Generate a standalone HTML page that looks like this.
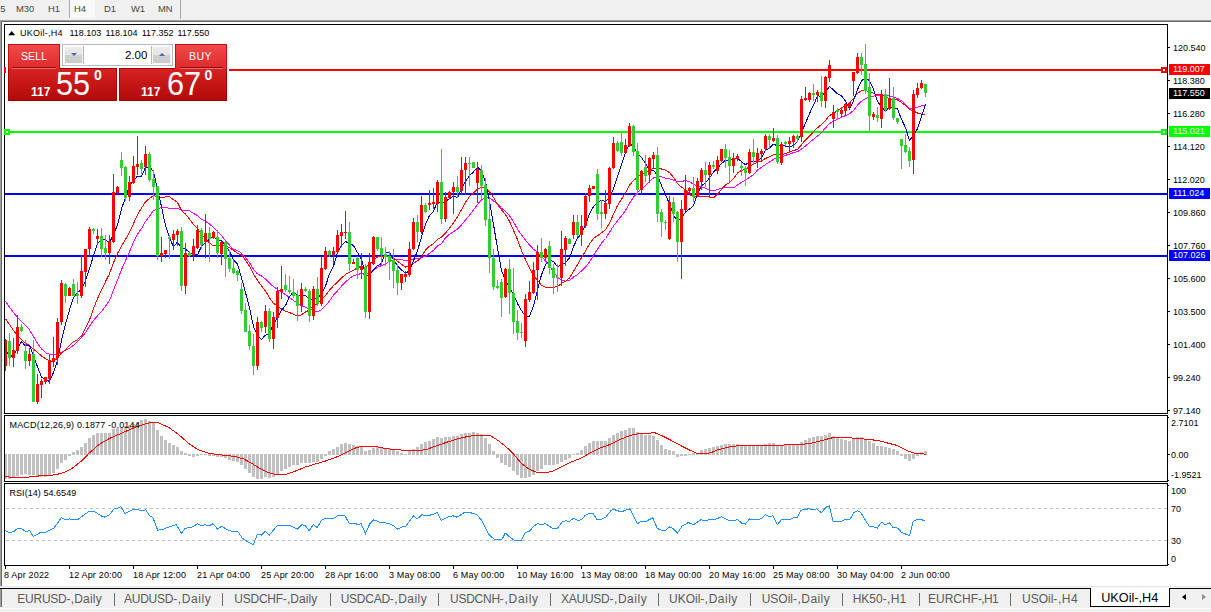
<!DOCTYPE html>
<html><head><meta charset="utf-8"><title>UKOil-,H4</title>
<style>
*{box-sizing:border-box;margin:0;padding:0}
html,body{width:1211px;height:612px;overflow:hidden;background:#fff;font-family:"Liberation Sans",sans-serif}
#root{position:relative;width:1211px;height:612px;overflow:hidden;background:#fff}
#tb{position:absolute;left:0;top:0;width:1211px;height:20px;background:#f0f0f0;opacity:0.999}
#tb .b{position:absolute;top:3px;font-size:9.7px;line-height:12px;color:#444;white-space:nowrap;transform-origin:0 0;transform:scaleX(0.97)}
#tb .h4{position:absolute;left:70px;top:0;width:25px;height:18px;background:#f9f9f9}
#tb .vs{position:absolute;top:0;width:1px;height:19px;background:#a8a8a8}
#wb1{position:absolute;left:0;top:20px;width:1211px;height:1px;background:#a0a0a0}
#wb2{position:absolute;left:1px;top:21px;width:1210px;height:1px;background:#696969}
#wl1{position:absolute;left:0;top:20px;width:1px;height:566px;background:#a0a0a0}
#wl2{position:absolute;left:1px;top:21px;width:1px;height:565px;background:#696969}
svg{position:absolute;left:0;top:0}
.ax{position:absolute;font-size:9px;line-height:12px;color:#000;white-space:nowrap}
.tag{position:absolute;left:1169px;width:41px;height:11px;font-size:9px;line-height:11px;padding-left:4px;white-space:nowrap}
.ttl{position:absolute;font-size:9px;line-height:12px;color:#000;white-space:nowrap}
#tabs{position:absolute;left:0;top:586px;width:1211px;height:26px;background:#f0f0f0}
#tabs .ln0{position:absolute;left:0;top:0;width:1211px;height:2px;background:linear-gradient(#e6e6e6 50%,#f8f8f8 50%)}
#tabs .ln{position:absolute;left:0;top:2px;width:1211px;height:1px;background:#000}
#tabs .lb{position:absolute;left:0;top:3px;width:2px;height:18px;background:linear-gradient(90deg,#a0a0a0 50%,#696969 50%)}
.tab{position:absolute;top:6px;font-size:12px;line-height:15px;color:#5a5a5a;white-space:nowrap}
.sep{position:absolute;top:7px;width:1px;height:13px;background:#6e6e6e}
#act{position:absolute;left:1090px;top:2px;width:80px;height:19px;background:#fff;border:1px solid #000;border-top:0;border-left:1px solid #000}
#act span{position:absolute;left:10.2px;top:3px;font-size:12.7px;line-height:15px;color:#000;white-space:nowrap}
#bot{position:absolute;left:0;top:22px;width:1211px;height:1px;background:#fafafa}
.arr{position:absolute;top:7.5px;width:0;height:0;border-top:3.5px solid transparent;border-bottom:3.5px solid transparent}
/* trade panel */
#tp{position:absolute;left:8px;top:44px;width:219px;height:57px;background:#fff;box-shadow:-2px 0 0 #fff,2px 0 0 #fff}
.rb{position:absolute;color:#fff}
#sell{left:0;top:0;width:52px;height:25px;background:linear-gradient(#f24a4a,#dc2a2a);border:1px solid #c01010;border-bottom:0}
#buy{left:167px;top:0;width:52px;height:25px;background:linear-gradient(#f24a4a,#dc2a2a);border:1px solid #c01010;border-bottom:0}
#sp{left:0;top:24px;width:109px;height:33px;background:linear-gradient(#d62222,#b20a0a);border:1px solid #a80000}
#bp{left:111px;top:24px;width:108px;height:33px;background:linear-gradient(#d62222,#b20a0a);border:1px solid #a80000}
.rb .t{position:absolute;font-size:11.5px;line-height:13px;white-space:nowrap;transform-origin:0 50%;transform:scaleX(0.915)}
.uln{position:absolute;height:1px}
#vol{position:absolute;left:54px;top:0;width:111px;height:22px;background:#fff;border:1px solid #b4b8c4}
.vb{position:absolute;top:1px;width:19px;height:18px;background:linear-gradient(#ececec 0,#e4e4e4 50%,#d0d0d0 51%,#cbcbcb 100%);border:1px solid #f4f4f4}
.small{position:absolute;font-weight:bold;font-size:12px;line-height:12px}
.big{position:absolute;font-size:33px;line-height:33px;transform-origin:0 0;transform:scaleX(0.93)}
.sup{position:absolute;font-weight:bold;font-size:14px;line-height:14px}
</style></head><body><div id="root">
<div id="tb">
 <div class="h4"></div>
 <div class="vs" style="left:69px;height:18px"></div>
 <div class="vs" style="left:180px"></div>
 <div class="b" style="left:-5px">15</div>
 <div class="b" style="left:16.4px">M30</div>
 <div class="b" style="left:47.6px">H1</div>
 <div class="b" style="left:74.3px">H4</div>
 <div class="b" style="left:103.5px">D1</div>
 <div class="b" style="left:131.2px">W1</div>
 <div class="b" style="left:157.5px">MN</div>
</div>
<div id="wb1"></div><div id="wb2"></div><div id="wl1"></div><div id="wl2"></div>
<svg width="1211" height="612" viewBox="0 0 1211 612" shape-rendering="crispEdges">
<rect x="5" y="69" width="1162" height="2" fill="#ff0000"/>
<rect x="5" y="131" width="1162" height="2" fill="#00ff00"/>
<rect x="5" y="193" width="1162" height="2" fill="#0000ff"/>
<rect x="5" y="255" width="1162" height="2" fill="#0000ff"/>
<polyline points="5.5,301.2 9.5,307.2 13.5,312.7 17.5,317.3 21.5,321.4 25.5,325.6 29.5,329.8 33.5,336.8 37.5,343.4 41.5,348.8 45.5,352.7 49.5,354.3 53.5,355.1 57.5,354.4 61.5,352.1 65.5,350.1 69.5,348.2 73.5,345.2 77.5,341.8 81.5,337.2 85.5,332.7 89.5,326.2 93.5,320.3 97.5,315.8 101.5,311.6 105.5,306.2 109.5,300.6 113.5,290.1 117.5,280.2 121.5,269.6 125.5,260.6 129.5,251.8 133.5,242.2 137.5,234.2 141.5,228.6 145.5,221.4 149.5,216.1 153.5,210.6 157.5,208.6 161.5,207.7 165.5,207.8 169.5,208.2 173.5,208.4 177.5,208.2 181.5,210.0 185.5,210.0 189.5,210.8 193.5,213.4 197.5,215.6 201.5,219.4 205.5,221.2 209.5,224.1 213.5,227.3 217.5,231.8 221.5,235.4 225.5,240.7 229.5,245.2 233.5,249.4 237.5,250.4 241.5,253.3 245.5,257.4 249.5,262.8 253.5,269.4 257.5,273.9 261.5,276.0 265.5,278.9 269.5,283.1 273.5,286.6 277.5,289.6 281.5,291.9 285.5,294.7 289.5,297.4 293.5,300.6 297.5,303.2 301.5,305.6 305.5,307.1 309.5,309.5 313.5,310.3 317.5,311.8 321.5,309.6 325.5,305.6 329.5,301.0 333.5,295.2 337.5,290.9 341.5,286.1 345.5,282.1 349.5,278.4 353.5,275.6 357.5,274.6 361.5,273.4 365.5,274.6 369.5,273.1 373.5,270.1 377.5,267.2 381.5,265.6 385.5,263.9 389.5,261.1 393.5,260.2 397.5,259.2 401.5,259.5 405.5,260.6 409.5,260.4 413.5,258.9 417.5,258.8 421.5,257.4 425.5,256.4 429.5,253.3 433.5,250.3 437.5,245.9 441.5,243.6 445.5,237.8 449.5,234.3 453.5,231.8 457.5,229.0 461.5,224.8 465.5,220.1 469.5,215.2 473.5,210.0 477.5,204.3 481.5,199.9 485.5,197.2 489.5,197.7 493.5,200.9 497.5,203.7 501.5,208.3 505.5,211.2 509.5,215.7 513.5,221.7 517.5,229.2 521.5,234.9 525.5,240.1 529.5,245.1 533.5,249.2 537.5,252.2 541.5,256.6 545.5,260.9 549.5,266.1 553.5,271.6 557.5,277.1 561.5,280.2 565.5,281.1 569.5,280.4 573.5,277.1 577.5,274.5 581.5,270.9 585.5,267.2 589.5,262.0 593.5,255.2 597.5,249.2 601.5,243.3 605.5,238.5 609.5,232.3 613.5,225.9 617.5,220.9 621.5,215.7 625.5,210.4 629.5,203.3 633.5,197.1 637.5,192.7 641.5,188.8 645.5,185.7 649.5,181.3 653.5,178.0 657.5,176.9 661.5,176.8 665.5,178.1 669.5,178.8 673.5,180.2 677.5,181.6 681.5,181.3 685.5,180.7 689.5,181.7 693.5,184.4 697.5,185.9 701.5,186.8 705.5,188.2 709.5,190.2 713.5,190.9 717.5,189.4 721.5,188.3 725.5,187.4 729.5,187.8 733.5,188.0 737.5,185.1 741.5,182.4 745.5,179.9 749.5,177.4 753.5,174.6 757.5,170.1 761.5,167.2 765.5,164.5 769.5,162.1 773.5,159.2 777.5,158.2 781.5,156.9 785.5,155.3 789.5,154.2 793.5,152.6 797.5,151.6 801.5,149.1 805.5,146.1 809.5,142.4 813.5,139.2 817.5,136.1 821.5,132.7 825.5,127.9 829.5,123.5 833.5,121.3 837.5,119.2 841.5,117.2 845.5,115.6 849.5,113.8 853.5,110.5 857.5,105.2 861.5,101.2 865.5,98.6 869.5,97.3 873.5,96.2 877.5,95.2 881.5,95.0 885.5,95.5 889.5,95.8 893.5,97.0 897.5,98.5 901.5,100.7 905.5,104.5 909.5,109.2 913.5,108.3 917.5,107.2 921.5,105.8 925.5,105.2" fill="none" stroke="#ff00ff" stroke-width="1"/>
<polyline points="5.5,318.9 9.5,324.6 13.5,330.5 17.5,335.6 21.5,339.4 25.5,343.6 29.5,345.3 33.5,349.2 37.5,352.4 41.5,356.0 45.5,358.7 49.5,361.0 53.5,361.2 57.5,358.3 61.5,353.0 65.5,350.1 69.5,345.4 73.5,341.8 77.5,339.8 81.5,335.8 85.5,328.3 89.5,320.0 93.5,308.6 97.5,298.7 101.5,289.9 105.5,281.6 109.5,273.7 113.5,262.6 117.5,253.6 121.5,246.0 125.5,239.4 129.5,232.4 133.5,223.7 137.5,214.9 141.5,208.1 145.5,201.8 149.5,198.5 153.5,195.6 157.5,196.9 161.5,197.2 165.5,197.0 169.5,196.8 173.5,199.6 177.5,202.6 181.5,210.4 185.5,214.1 189.5,219.0 193.5,224.4 197.5,228.8 201.5,233.8 205.5,239.1 209.5,243.0 213.5,246.0 217.5,245.8 221.5,245.1 225.5,245.7 229.5,247.7 233.5,250.3 237.5,253.2 241.5,254.9 245.5,260.2 249.5,266.2 253.5,274.2 257.5,280.3 261.5,285.8 265.5,291.0 269.5,297.7 273.5,303.4 277.5,305.9 281.5,309.0 285.5,311.1 289.5,312.6 293.5,314.2 297.5,316.2 301.5,314.8 305.5,312.0 309.5,310.0 313.5,304.9 317.5,303.7 321.5,299.7 325.5,295.7 329.5,290.1 333.5,285.7 337.5,282.0 341.5,278.2 345.5,274.3 349.5,272.4 353.5,270.2 357.5,267.8 361.5,266.2 365.5,267.6 369.5,264.0 373.5,260.6 377.5,256.9 381.5,256.0 385.5,256.4 389.5,256.9 393.5,258.2 397.5,261.4 401.5,264.2 405.5,267.0 409.5,266.0 413.5,263.4 417.5,260.8 421.5,256.8 425.5,250.1 429.5,246.2 433.5,243.8 437.5,239.4 441.5,237.0 445.5,233.0 449.5,228.3 453.5,222.7 457.5,216.6 461.5,209.7 465.5,202.3 469.5,196.6 473.5,193.0 477.5,188.8 481.5,187.6 485.5,188.1 489.5,191.8 493.5,197.4 497.5,204.5 501.5,209.8 505.5,214.6 509.5,221.3 513.5,230.3 517.5,239.7 521.5,250.6 525.5,259.6 529.5,268.2 533.5,275.0 537.5,280.5 541.5,285.3 545.5,287.2 549.5,287.9 553.5,287.3 557.5,286.6 561.5,283.4 565.5,281.3 569.5,278.0 573.5,271.4 577.5,264.8 581.5,257.7 585.5,250.8 589.5,243.9 593.5,238.3 597.5,235.8 601.5,232.8 605.5,229.8 609.5,223.1 613.5,214.1 617.5,205.6 621.5,199.2 625.5,193.0 629.5,185.2 633.5,180.5 637.5,177.5 641.5,173.8 645.5,172.5 649.5,170.5 653.5,168.4 657.5,168.4 661.5,169.0 665.5,170.3 669.5,172.6 673.5,177.3 677.5,183.4 681.5,187.1 685.5,190.1 689.5,194.2 693.5,197.2 697.5,196.6 701.5,196.6 705.5,196.5 709.5,197.0 713.5,197.8 717.5,194.2 721.5,189.3 725.5,185.0 729.5,182.6 733.5,178.8 737.5,173.1 741.5,170.4 745.5,169.2 749.5,166.8 753.5,164.2 757.5,162.3 761.5,161.0 765.5,158.4 769.5,156.8 773.5,154.8 777.5,155.0 781.5,154.6 785.5,153.7 789.5,152.0 793.5,150.6 797.5,149.4 801.5,144.8 805.5,139.8 809.5,135.9 813.5,131.8 817.5,127.7 821.5,124.4 825.5,120.4 829.5,115.4 833.5,113.7 837.5,110.4 841.5,108.1 845.5,105.4 849.5,102.9 853.5,98.6 857.5,93.2 861.5,90.9 865.5,90.4 869.5,92.0 873.5,93.2 877.5,95.0 881.5,94.5 885.5,96.7 889.5,98.9 893.5,99.3 897.5,100.0 901.5,102.4 905.5,105.6 909.5,109.4 913.5,110.9 917.5,113.0 921.5,114.2 925.5,114.3" fill="none" stroke="#ff0000" stroke-width="1"/>
<polyline points="5.5,350.1 9.5,356.5 13.5,355.5 17.5,347.9 21.5,341.7 25.5,345.9 29.5,345.1 33.5,355.5 37.5,366.9 41.5,376.9 45.5,380.1 49.5,381.3 53.5,372.5 57.5,360.1 61.5,340.5 65.5,324.3 69.5,309.9 73.5,297.5 77.5,292.3 81.5,289.9 85.5,280.5 89.5,268.7 93.5,255.7 97.5,243.7 101.5,239.3 105.5,240.1 109.5,242.5 113.5,234.7 117.5,224.9 121.5,208.7 125.5,197.7 129.5,185.9 133.5,180.7 137.5,176.1 141.5,176.3 145.5,167.5 149.5,167.1 153.5,171.3 157.5,189.7 161.5,206.5 165.5,225.7 169.5,237.5 173.5,246.9 177.5,241.9 181.5,248.5 185.5,249.1 189.5,252.5 193.5,254.9 197.5,254.7 201.5,246.5 205.5,242.5 209.5,239.1 213.5,236.3 217.5,240.9 221.5,240.3 225.5,245.5 229.5,251.5 233.5,259.7 237.5,264.1 241.5,277.9 245.5,292.5 249.5,307.9 253.5,326.5 257.5,335.9 261.5,339.3 265.5,335.1 269.5,333.7 273.5,323.9 277.5,317.7 281.5,309.9 285.5,305.7 289.5,296.3 293.5,292.1 297.5,295.1 301.5,295.1 305.5,295.3 309.5,300.1 313.5,298.7 317.5,298.3 321.5,294.1 325.5,286.1 329.5,273.9 333.5,266.3 337.5,252.5 341.5,245.3 345.5,241.5 349.5,243.3 353.5,245.5 357.5,252.5 361.5,259.3 365.5,275.3 369.5,274.9 373.5,269.9 377.5,265.7 381.5,263.5 385.5,252.5 389.5,252.5 393.5,259.3 397.5,266.1 401.5,269.9 405.5,273.3 409.5,270.7 413.5,260.9 417.5,250.7 421.5,236.9 425.5,224.5 429.5,215.3 433.5,211.3 437.5,201.3 441.5,204.1 445.5,201.1 449.5,198.9 453.5,195.9 457.5,197.9 461.5,188.1 465.5,181.3 469.5,175.7 473.5,171.9 477.5,167.3 481.5,170.5 485.5,181.9 489.5,200.7 493.5,224.5 497.5,248.3 501.5,270.7 505.5,280.5 509.5,287.5 513.5,294.5 517.5,303.5 521.5,310.5 525.5,316.5 529.5,316.3 533.5,305.9 537.5,289.7 541.5,274.7 545.5,264.7 549.5,259.9 553.5,261.5 557.5,266.7 561.5,264.9 565.5,262.7 569.5,257.9 573.5,246.7 577.5,238.1 581.5,233.5 585.5,225.1 589.5,213.9 593.5,206.7 597.5,202.5 601.5,200.1 605.5,201.5 609.5,197.5 613.5,188.9 617.5,176.3 621.5,164.1 625.5,152.5 629.5,144.1 633.5,145.9 637.5,153.7 641.5,157.3 645.5,163.5 649.5,169.9 653.5,170.5 657.5,175.3 661.5,185.5 665.5,194.9 669.5,203.7 673.5,215.5 677.5,221.1 681.5,218.5 685.5,211.9 689.5,209.1 693.5,205.7 697.5,193.5 701.5,185.7 705.5,182.7 709.5,178.1 713.5,172.1 717.5,167.9 721.5,163.7 725.5,160.3 729.5,160.5 733.5,158.7 737.5,157.9 741.5,161.7 745.5,164.7 749.5,161.9 753.5,161.7 757.5,161.1 761.5,157.7 765.5,150.3 769.5,147.9 773.5,144.1 777.5,145.9 781.5,144.5 785.5,146.1 789.5,146.3 793.5,145.9 797.5,141.3 801.5,132.3 805.5,123.1 809.5,113.5 813.5,105.3 817.5,95.9 821.5,96.3 825.5,92.1 829.5,86.5 833.5,89.9 837.5,93.9 841.5,95.7 845.5,101.1 849.5,108.7 853.5,100.7 857.5,89.7 861.5,80.7 865.5,78.1 869.5,80.7 873.5,89.1 877.5,101.3 881.5,107.1 885.5,110.9 889.5,107.3 893.5,108.1 897.5,108.9 901.5,119.3 905.5,127.7 909.5,140.3 913.5,135.5 917.5,128.7 921.5,116.1 925.5,104.3" fill="none" stroke="#0000cd" stroke-width="1"/>
<rect x="5" y="339" width="1" height="32" fill="#ff0000"/>
<rect x="4" y="340" width="3" height="26" fill="#ff0000"/>
<rect x="9" y="333" width="1" height="33" fill="#32cd32"/>
<rect x="8" y="341" width="3" height="17" fill="#32cd32"/>
<rect x="13" y="338" width="1" height="29" fill="#ff0000"/>
<rect x="12" y="350" width="3" height="8" fill="#ff0000"/>
<rect x="17" y="315" width="1" height="39" fill="#ff0000"/>
<rect x="16" y="327" width="3" height="24" fill="#ff0000"/>
<rect x="21" y="324" width="1" height="8" fill="#32cd32"/>
<rect x="20" y="327" width="3" height="4" fill="#32cd32"/>
<rect x="25" y="340" width="1" height="29" fill="#32cd32"/>
<rect x="24" y="351" width="3" height="10" fill="#32cd32"/>
<rect x="29" y="348" width="1" height="18" fill="#ff0000"/>
<rect x="28" y="354" width="3" height="7" fill="#ff0000"/>
<rect x="33" y="340" width="1" height="62" fill="#32cd32"/>
<rect x="32" y="354" width="3" height="48" fill="#32cd32"/>
<rect x="37" y="374" width="1" height="30" fill="#ff0000"/>
<rect x="36" y="384" width="3" height="18" fill="#ff0000"/>
<rect x="41" y="379" width="1" height="19" fill="#ff0000"/>
<rect x="40" y="381" width="3" height="4" fill="#ff0000"/>
<rect x="45" y="377" width="1" height="7" fill="#ff0000"/>
<rect x="44" y="377" width="3" height="5" fill="#ff0000"/>
<rect x="49" y="354" width="1" height="30" fill="#ff0000"/>
<rect x="48" y="360" width="3" height="19" fill="#ff0000"/>
<rect x="53" y="337" width="1" height="30" fill="#ff0000"/>
<rect x="52" y="358" width="3" height="4" fill="#ff0000"/>
<rect x="57" y="318" width="1" height="47" fill="#ff0000"/>
<rect x="56" y="322" width="3" height="36" fill="#ff0000"/>
<rect x="61" y="280" width="1" height="45" fill="#ff0000"/>
<rect x="60" y="283" width="3" height="39" fill="#ff0000"/>
<rect x="65" y="283" width="1" height="20" fill="#32cd32"/>
<rect x="64" y="284" width="3" height="12" fill="#32cd32"/>
<rect x="69" y="287" width="1" height="9" fill="#ff0000"/>
<rect x="68" y="288" width="3" height="8" fill="#ff0000"/>
<rect x="73" y="279" width="1" height="17" fill="#32cd32"/>
<rect x="72" y="284" width="3" height="12" fill="#32cd32"/>
<rect x="77" y="282" width="1" height="22" fill="#32cd32"/>
<rect x="76" y="294" width="3" height="2" fill="#32cd32"/>
<rect x="81" y="255" width="1" height="43" fill="#ff0000"/>
<rect x="80" y="271" width="3" height="25" fill="#ff0000"/>
<rect x="85" y="249" width="1" height="38" fill="#ff0000"/>
<rect x="84" y="249" width="3" height="23" fill="#ff0000"/>
<rect x="89" y="227" width="1" height="30" fill="#ff0000"/>
<rect x="88" y="229" width="3" height="20" fill="#ff0000"/>
<rect x="93" y="228" width="1" height="6" fill="#32cd32"/>
<rect x="92" y="229" width="3" height="2" fill="#32cd32"/>
<rect x="97" y="229" width="1" height="16" fill="#ff0000"/>
<rect x="96" y="236" width="3" height="3" fill="#ff0000"/>
<rect x="101" y="228" width="1" height="29" fill="#32cd32"/>
<rect x="100" y="236" width="3" height="13" fill="#32cd32"/>
<rect x="105" y="235" width="1" height="25" fill="#32cd32"/>
<rect x="104" y="248" width="3" height="5" fill="#32cd32"/>
<rect x="109" y="235" width="1" height="29" fill="#ff0000"/>
<rect x="108" y="241" width="3" height="12" fill="#ff0000"/>
<rect x="113" y="174" width="1" height="69" fill="#ff0000"/>
<rect x="112" y="192" width="3" height="50" fill="#ff0000"/>
<rect x="117" y="186" width="1" height="8" fill="#ff0000"/>
<rect x="116" y="187" width="3" height="6" fill="#ff0000"/>
<rect x="121" y="152" width="1" height="24" fill="#32cd32"/>
<rect x="120" y="160" width="3" height="8" fill="#32cd32"/>
<rect x="125" y="166" width="1" height="35" fill="#32cd32"/>
<rect x="124" y="167" width="3" height="31" fill="#32cd32"/>
<rect x="129" y="176" width="1" height="25" fill="#ff0000"/>
<rect x="128" y="182" width="3" height="15" fill="#ff0000"/>
<rect x="133" y="156" width="1" height="28" fill="#ff0000"/>
<rect x="132" y="166" width="3" height="17" fill="#ff0000"/>
<rect x="137" y="136" width="1" height="39" fill="#ff0000"/>
<rect x="136" y="164" width="3" height="3" fill="#ff0000"/>
<rect x="141" y="160" width="1" height="14" fill="#32cd32"/>
<rect x="140" y="163" width="3" height="6" fill="#32cd32"/>
<rect x="145" y="146" width="1" height="29" fill="#ff0000"/>
<rect x="144" y="154" width="3" height="13" fill="#ff0000"/>
<rect x="149" y="152" width="1" height="30" fill="#32cd32"/>
<rect x="148" y="154" width="3" height="26" fill="#32cd32"/>
<rect x="153" y="170" width="1" height="30" fill="#32cd32"/>
<rect x="152" y="179" width="3" height="8" fill="#32cd32"/>
<rect x="157" y="186" width="1" height="74" fill="#32cd32"/>
<rect x="156" y="186" width="3" height="70" fill="#32cd32"/>
<rect x="161" y="237" width="1" height="25" fill="#ff0000"/>
<rect x="160" y="253" width="3" height="3" fill="#ff0000"/>
<rect x="165" y="250" width="1" height="8" fill="#ff0000"/>
<rect x="164" y="250" width="3" height="4" fill="#ff0000"/>
<rect x="169" y="235" width="1" height="24" fill="#32cd32"/>
<rect x="168" y="237" width="3" height="2" fill="#32cd32"/>
<rect x="173" y="230" width="1" height="20" fill="#ff0000"/>
<rect x="172" y="234" width="3" height="6" fill="#ff0000"/>
<rect x="177" y="229" width="1" height="17" fill="#ff0000"/>
<rect x="176" y="231" width="3" height="4" fill="#ff0000"/>
<rect x="181" y="227" width="1" height="64" fill="#32cd32"/>
<rect x="180" y="231" width="3" height="55" fill="#32cd32"/>
<rect x="185" y="243" width="1" height="51" fill="#ff0000"/>
<rect x="184" y="253" width="3" height="33" fill="#ff0000"/>
<rect x="189" y="251" width="1" height="6" fill="#32cd32"/>
<rect x="188" y="253" width="3" height="3" fill="#32cd32"/>
<rect x="193" y="239" width="1" height="22" fill="#ff0000"/>
<rect x="192" y="246" width="3" height="9" fill="#ff0000"/>
<rect x="197" y="225" width="1" height="24" fill="#ff0000"/>
<rect x="196" y="230" width="3" height="18" fill="#ff0000"/>
<rect x="201" y="228" width="1" height="21" fill="#32cd32"/>
<rect x="200" y="230" width="3" height="15" fill="#32cd32"/>
<rect x="205" y="214" width="1" height="44" fill="#ff0000"/>
<rect x="204" y="233" width="3" height="9" fill="#ff0000"/>
<rect x="209" y="227" width="1" height="35" fill="#32cd32"/>
<rect x="208" y="233" width="3" height="6" fill="#32cd32"/>
<rect x="213" y="231" width="1" height="8" fill="#ff0000"/>
<rect x="212" y="232" width="3" height="6" fill="#ff0000"/>
<rect x="217" y="230" width="1" height="28" fill="#32cd32"/>
<rect x="216" y="237" width="3" height="16" fill="#32cd32"/>
<rect x="221" y="241" width="1" height="24" fill="#ff0000"/>
<rect x="220" y="242" width="3" height="12" fill="#ff0000"/>
<rect x="225" y="241" width="1" height="36" fill="#32cd32"/>
<rect x="224" y="242" width="3" height="17" fill="#32cd32"/>
<rect x="229" y="250" width="1" height="22" fill="#32cd32"/>
<rect x="228" y="258" width="3" height="11" fill="#32cd32"/>
<rect x="233" y="260" width="1" height="14" fill="#32cd32"/>
<rect x="232" y="268" width="3" height="5" fill="#32cd32"/>
<rect x="237" y="270" width="1" height="11" fill="#32cd32"/>
<rect x="236" y="271" width="3" height="4" fill="#32cd32"/>
<rect x="241" y="283" width="1" height="31" fill="#32cd32"/>
<rect x="240" y="289" width="3" height="22" fill="#32cd32"/>
<rect x="245" y="303" width="1" height="29" fill="#32cd32"/>
<rect x="244" y="310" width="3" height="22" fill="#32cd32"/>
<rect x="249" y="325" width="1" height="25" fill="#32cd32"/>
<rect x="248" y="331" width="3" height="15" fill="#32cd32"/>
<rect x="253" y="334" width="1" height="41" fill="#32cd32"/>
<rect x="252" y="346" width="3" height="20" fill="#32cd32"/>
<rect x="257" y="317" width="1" height="53" fill="#ff0000"/>
<rect x="256" y="322" width="3" height="44" fill="#ff0000"/>
<rect x="261" y="321" width="1" height="11" fill="#32cd32"/>
<rect x="260" y="322" width="3" height="6" fill="#32cd32"/>
<rect x="265" y="305" width="1" height="28" fill="#ff0000"/>
<rect x="264" y="311" width="3" height="16" fill="#ff0000"/>
<rect x="269" y="308" width="1" height="34" fill="#32cd32"/>
<rect x="268" y="311" width="3" height="28" fill="#32cd32"/>
<rect x="273" y="312" width="1" height="37" fill="#ff0000"/>
<rect x="272" y="317" width="3" height="22" fill="#ff0000"/>
<rect x="277" y="287" width="1" height="41" fill="#ff0000"/>
<rect x="276" y="291" width="3" height="27" fill="#ff0000"/>
<rect x="281" y="266" width="1" height="33" fill="#ff0000"/>
<rect x="280" y="289" width="3" height="3" fill="#ff0000"/>
<rect x="285" y="274" width="1" height="18" fill="#32cd32"/>
<rect x="284" y="285" width="3" height="5" fill="#32cd32"/>
<rect x="289" y="276" width="1" height="18" fill="#32cd32"/>
<rect x="288" y="290" width="3" height="2" fill="#32cd32"/>
<rect x="293" y="279" width="1" height="19" fill="#32cd32"/>
<rect x="292" y="292" width="3" height="4" fill="#32cd32"/>
<rect x="297" y="290" width="1" height="31" fill="#32cd32"/>
<rect x="296" y="295" width="3" height="11" fill="#32cd32"/>
<rect x="301" y="283" width="1" height="29" fill="#ff0000"/>
<rect x="300" y="289" width="3" height="16" fill="#ff0000"/>
<rect x="305" y="287" width="1" height="5" fill="#32cd32"/>
<rect x="304" y="289" width="3" height="2" fill="#32cd32"/>
<rect x="309" y="289" width="1" height="33" fill="#32cd32"/>
<rect x="308" y="291" width="3" height="25" fill="#32cd32"/>
<rect x="313" y="286" width="1" height="34" fill="#ff0000"/>
<rect x="312" y="289" width="3" height="27" fill="#ff0000"/>
<rect x="317" y="277" width="1" height="29" fill="#32cd32"/>
<rect x="316" y="289" width="3" height="15" fill="#32cd32"/>
<rect x="321" y="257" width="1" height="49" fill="#ff0000"/>
<rect x="320" y="268" width="3" height="36" fill="#ff0000"/>
<rect x="325" y="247" width="1" height="23" fill="#ff0000"/>
<rect x="324" y="251" width="3" height="18" fill="#ff0000"/>
<rect x="329" y="250" width="1" height="7" fill="#32cd32"/>
<rect x="328" y="251" width="3" height="4" fill="#32cd32"/>
<rect x="333" y="247" width="1" height="17" fill="#ff0000"/>
<rect x="332" y="251" width="3" height="4" fill="#ff0000"/>
<rect x="337" y="230" width="1" height="23" fill="#ff0000"/>
<rect x="336" y="235" width="3" height="17" fill="#ff0000"/>
<rect x="341" y="224" width="1" height="23" fill="#ff0000"/>
<rect x="340" y="232" width="3" height="4" fill="#ff0000"/>
<rect x="345" y="211" width="1" height="28" fill="#ff0000"/>
<rect x="344" y="232" width="3" height="1" fill="#ff0000"/>
<rect x="349" y="222" width="1" height="49" fill="#32cd32"/>
<rect x="348" y="232" width="3" height="32" fill="#32cd32"/>
<rect x="353" y="259" width="1" height="5" fill="#ff0000"/>
<rect x="352" y="262" width="3" height="2" fill="#ff0000"/>
<rect x="357" y="256" width="1" height="23" fill="#32cd32"/>
<rect x="356" y="258" width="3" height="12" fill="#32cd32"/>
<rect x="361" y="253" width="1" height="26" fill="#ff0000"/>
<rect x="360" y="266" width="3" height="4" fill="#ff0000"/>
<rect x="365" y="264" width="1" height="54" fill="#32cd32"/>
<rect x="364" y="267" width="3" height="45" fill="#32cd32"/>
<rect x="369" y="253" width="1" height="66" fill="#ff0000"/>
<rect x="368" y="262" width="3" height="50" fill="#ff0000"/>
<rect x="373" y="236" width="1" height="29" fill="#ff0000"/>
<rect x="372" y="237" width="3" height="27" fill="#ff0000"/>
<rect x="377" y="237" width="1" height="14" fill="#32cd32"/>
<rect x="376" y="237" width="3" height="12" fill="#32cd32"/>
<rect x="381" y="237" width="1" height="28" fill="#32cd32"/>
<rect x="380" y="248" width="3" height="7" fill="#32cd32"/>
<rect x="385" y="247" width="1" height="19" fill="#32cd32"/>
<rect x="384" y="254" width="3" height="3" fill="#32cd32"/>
<rect x="389" y="251" width="1" height="29" fill="#32cd32"/>
<rect x="388" y="256" width="3" height="6" fill="#32cd32"/>
<rect x="393" y="249" width="1" height="39" fill="#32cd32"/>
<rect x="392" y="260" width="3" height="11" fill="#32cd32"/>
<rect x="397" y="264" width="1" height="31" fill="#32cd32"/>
<rect x="396" y="270" width="3" height="13" fill="#32cd32"/>
<rect x="401" y="274" width="1" height="16" fill="#ff0000"/>
<rect x="400" y="274" width="3" height="9" fill="#ff0000"/>
<rect x="405" y="271" width="1" height="11" fill="#ff0000"/>
<rect x="404" y="274" width="3" height="3" fill="#ff0000"/>
<rect x="409" y="242" width="1" height="35" fill="#ff0000"/>
<rect x="408" y="249" width="3" height="26" fill="#ff0000"/>
<rect x="413" y="218" width="1" height="32" fill="#ff0000"/>
<rect x="412" y="222" width="3" height="27" fill="#ff0000"/>
<rect x="417" y="215" width="1" height="27" fill="#32cd32"/>
<rect x="416" y="222" width="3" height="10" fill="#32cd32"/>
<rect x="421" y="196" width="1" height="38" fill="#ff0000"/>
<rect x="420" y="205" width="3" height="27" fill="#ff0000"/>
<rect x="425" y="203" width="1" height="10" fill="#32cd32"/>
<rect x="424" y="205" width="3" height="7" fill="#32cd32"/>
<rect x="429" y="190" width="1" height="20" fill="#ff0000"/>
<rect x="428" y="203" width="3" height="2" fill="#ff0000"/>
<rect x="433" y="188" width="1" height="21" fill="#ff0000"/>
<rect x="432" y="202" width="3" height="2" fill="#ff0000"/>
<rect x="437" y="180" width="1" height="32" fill="#ff0000"/>
<rect x="436" y="182" width="3" height="22" fill="#ff0000"/>
<rect x="441" y="149" width="1" height="75" fill="#32cd32"/>
<rect x="440" y="182" width="3" height="37" fill="#32cd32"/>
<rect x="445" y="192" width="1" height="30" fill="#ff0000"/>
<rect x="444" y="197" width="3" height="22" fill="#ff0000"/>
<rect x="449" y="191" width="1" height="8" fill="#ff0000"/>
<rect x="448" y="192" width="3" height="6" fill="#ff0000"/>
<rect x="453" y="182" width="1" height="32" fill="#ff0000"/>
<rect x="452" y="187" width="3" height="5" fill="#ff0000"/>
<rect x="457" y="176" width="1" height="22" fill="#32cd32"/>
<rect x="456" y="187" width="3" height="5" fill="#32cd32"/>
<rect x="461" y="157" width="1" height="38" fill="#ff0000"/>
<rect x="460" y="170" width="3" height="21" fill="#ff0000"/>
<rect x="465" y="157" width="1" height="38" fill="#ff0000"/>
<rect x="464" y="163" width="3" height="7" fill="#ff0000"/>
<rect x="469" y="157" width="1" height="29" fill="#32cd32"/>
<rect x="468" y="163" width="3" height="1" fill="#32cd32"/>
<rect x="473" y="162" width="1" height="6" fill="#32cd32"/>
<rect x="472" y="162" width="3" height="6" fill="#32cd32"/>
<rect x="477" y="162" width="1" height="41" fill="#ff0000"/>
<rect x="476" y="169" width="3" height="14" fill="#ff0000"/>
<rect x="481" y="165" width="1" height="34" fill="#32cd32"/>
<rect x="480" y="170" width="3" height="16" fill="#32cd32"/>
<rect x="485" y="178" width="1" height="48" fill="#32cd32"/>
<rect x="484" y="185" width="3" height="35" fill="#32cd32"/>
<rect x="489" y="198" width="1" height="75" fill="#32cd32"/>
<rect x="488" y="219" width="3" height="39" fill="#32cd32"/>
<rect x="493" y="249" width="1" height="41" fill="#32cd32"/>
<rect x="492" y="258" width="3" height="29" fill="#32cd32"/>
<rect x="497" y="280" width="1" height="9" fill="#32cd32"/>
<rect x="496" y="286" width="3" height="2" fill="#32cd32"/>
<rect x="501" y="279" width="1" height="38" fill="#32cd32"/>
<rect x="500" y="282" width="3" height="16" fill="#32cd32"/>
<rect x="505" y="268" width="1" height="30" fill="#ff0000"/>
<rect x="504" y="269" width="3" height="28" fill="#ff0000"/>
<rect x="509" y="259" width="1" height="55" fill="#32cd32"/>
<rect x="508" y="269" width="3" height="24" fill="#32cd32"/>
<rect x="513" y="268" width="1" height="66" fill="#32cd32"/>
<rect x="512" y="293" width="3" height="29" fill="#32cd32"/>
<rect x="517" y="310" width="1" height="30" fill="#32cd32"/>
<rect x="516" y="321" width="3" height="12" fill="#32cd32"/>
<rect x="521" y="323" width="1" height="15" fill="#32cd32"/>
<rect x="520" y="332" width="3" height="1" fill="#32cd32"/>
<rect x="525" y="294" width="1" height="53" fill="#ff0000"/>
<rect x="524" y="299" width="3" height="42" fill="#ff0000"/>
<rect x="529" y="281" width="1" height="21" fill="#ff0000"/>
<rect x="528" y="292" width="3" height="8" fill="#ff0000"/>
<rect x="533" y="262" width="1" height="32" fill="#ff0000"/>
<rect x="532" y="270" width="3" height="23" fill="#ff0000"/>
<rect x="537" y="245" width="1" height="55" fill="#ff0000"/>
<rect x="536" y="252" width="3" height="18" fill="#ff0000"/>
<rect x="541" y="238" width="1" height="24" fill="#32cd32"/>
<rect x="540" y="252" width="3" height="6" fill="#32cd32"/>
<rect x="545" y="248" width="1" height="12" fill="#ff0000"/>
<rect x="544" y="249" width="3" height="9" fill="#ff0000"/>
<rect x="549" y="241" width="1" height="33" fill="#32cd32"/>
<rect x="548" y="246" width="3" height="22" fill="#32cd32"/>
<rect x="553" y="264" width="1" height="30" fill="#32cd32"/>
<rect x="552" y="268" width="3" height="10" fill="#32cd32"/>
<rect x="557" y="264" width="1" height="28" fill="#32cd32"/>
<rect x="556" y="277" width="3" height="1" fill="#32cd32"/>
<rect x="561" y="231" width="1" height="55" fill="#ff0000"/>
<rect x="560" y="249" width="3" height="29" fill="#ff0000"/>
<rect x="565" y="236" width="1" height="30" fill="#ff0000"/>
<rect x="564" y="238" width="3" height="12" fill="#ff0000"/>
<rect x="569" y="238" width="1" height="6" fill="#32cd32"/>
<rect x="568" y="239" width="3" height="5" fill="#32cd32"/>
<rect x="573" y="215" width="1" height="24" fill="#ff0000"/>
<rect x="572" y="222" width="3" height="13" fill="#ff0000"/>
<rect x="577" y="215" width="1" height="22" fill="#32cd32"/>
<rect x="576" y="222" width="3" height="13" fill="#32cd32"/>
<rect x="581" y="215" width="1" height="31" fill="#ff0000"/>
<rect x="580" y="226" width="3" height="9" fill="#ff0000"/>
<rect x="585" y="193" width="1" height="35" fill="#ff0000"/>
<rect x="584" y="196" width="3" height="30" fill="#ff0000"/>
<rect x="589" y="185" width="1" height="17" fill="#ff0000"/>
<rect x="588" y="188" width="3" height="8" fill="#ff0000"/>
<rect x="593" y="186" width="1" height="3" fill="#ff0000"/>
<rect x="592" y="186" width="3" height="3" fill="#ff0000"/>
<rect x="597" y="169" width="1" height="51" fill="#32cd32"/>
<rect x="596" y="174" width="3" height="40" fill="#32cd32"/>
<rect x="601" y="200" width="1" height="28" fill="#32cd32"/>
<rect x="600" y="212" width="3" height="2" fill="#32cd32"/>
<rect x="605" y="190" width="1" height="29" fill="#ff0000"/>
<rect x="604" y="203" width="3" height="11" fill="#ff0000"/>
<rect x="609" y="167" width="1" height="42" fill="#ff0000"/>
<rect x="608" y="168" width="3" height="36" fill="#ff0000"/>
<rect x="613" y="137" width="1" height="32" fill="#ff0000"/>
<rect x="612" y="143" width="3" height="25" fill="#ff0000"/>
<rect x="617" y="141" width="1" height="11" fill="#32cd32"/>
<rect x="616" y="143" width="3" height="8" fill="#32cd32"/>
<rect x="621" y="132" width="1" height="24" fill="#32cd32"/>
<rect x="620" y="142" width="3" height="11" fill="#32cd32"/>
<rect x="625" y="139" width="1" height="15" fill="#ff0000"/>
<rect x="624" y="145" width="3" height="8" fill="#ff0000"/>
<rect x="629" y="123" width="1" height="24" fill="#ff0000"/>
<rect x="628" y="126" width="3" height="20" fill="#ff0000"/>
<rect x="633" y="125" width="1" height="31" fill="#32cd32"/>
<rect x="632" y="126" width="3" height="26" fill="#32cd32"/>
<rect x="637" y="143" width="1" height="52" fill="#32cd32"/>
<rect x="636" y="151" width="3" height="39" fill="#32cd32"/>
<rect x="641" y="170" width="1" height="24" fill="#ff0000"/>
<rect x="640" y="171" width="3" height="19" fill="#ff0000"/>
<rect x="645" y="155" width="1" height="27" fill="#32cd32"/>
<rect x="644" y="167" width="3" height="9" fill="#32cd32"/>
<rect x="649" y="157" width="1" height="26" fill="#ff0000"/>
<rect x="648" y="158" width="3" height="17" fill="#ff0000"/>
<rect x="653" y="152" width="1" height="16" fill="#ff0000"/>
<rect x="652" y="155" width="3" height="4" fill="#ff0000"/>
<rect x="657" y="147" width="1" height="75" fill="#32cd32"/>
<rect x="656" y="155" width="3" height="59" fill="#32cd32"/>
<rect x="661" y="209" width="1" height="28" fill="#32cd32"/>
<rect x="660" y="212" width="3" height="10" fill="#32cd32"/>
<rect x="665" y="220" width="1" height="10" fill="#32cd32"/>
<rect x="664" y="222" width="3" height="1" fill="#32cd32"/>
<rect x="669" y="196" width="1" height="44" fill="#ff0000"/>
<rect x="668" y="202" width="3" height="37" fill="#ff0000"/>
<rect x="673" y="197" width="1" height="25" fill="#32cd32"/>
<rect x="672" y="202" width="3" height="12" fill="#32cd32"/>
<rect x="677" y="211" width="1" height="51" fill="#32cd32"/>
<rect x="676" y="212" width="3" height="30" fill="#32cd32"/>
<rect x="681" y="200" width="1" height="79" fill="#ff0000"/>
<rect x="680" y="209" width="3" height="33" fill="#ff0000"/>
<rect x="685" y="175" width="1" height="36" fill="#ff0000"/>
<rect x="684" y="190" width="3" height="20" fill="#ff0000"/>
<rect x="689" y="187" width="1" height="7" fill="#ff0000"/>
<rect x="688" y="188" width="3" height="3" fill="#ff0000"/>
<rect x="693" y="177" width="1" height="25" fill="#32cd32"/>
<rect x="692" y="188" width="3" height="9" fill="#32cd32"/>
<rect x="697" y="178" width="1" height="19" fill="#ff0000"/>
<rect x="696" y="181" width="3" height="15" fill="#ff0000"/>
<rect x="701" y="168" width="1" height="22" fill="#ff0000"/>
<rect x="700" y="170" width="3" height="12" fill="#ff0000"/>
<rect x="705" y="162" width="1" height="25" fill="#32cd32"/>
<rect x="704" y="170" width="3" height="5" fill="#32cd32"/>
<rect x="709" y="162" width="1" height="36" fill="#ff0000"/>
<rect x="708" y="165" width="3" height="10" fill="#ff0000"/>
<rect x="713" y="161" width="1" height="8" fill="#32cd32"/>
<rect x="712" y="165" width="3" height="2" fill="#32cd32"/>
<rect x="717" y="156" width="1" height="18" fill="#ff0000"/>
<rect x="716" y="160" width="3" height="11" fill="#ff0000"/>
<rect x="721" y="149" width="1" height="13" fill="#ff0000"/>
<rect x="720" y="149" width="3" height="12" fill="#ff0000"/>
<rect x="725" y="144" width="1" height="24" fill="#32cd32"/>
<rect x="724" y="149" width="3" height="9" fill="#32cd32"/>
<rect x="729" y="150" width="1" height="32" fill="#32cd32"/>
<rect x="728" y="157" width="3" height="9" fill="#32cd32"/>
<rect x="733" y="153" width="1" height="20" fill="#ff0000"/>
<rect x="732" y="158" width="3" height="8" fill="#ff0000"/>
<rect x="737" y="154" width="1" height="7" fill="#ff0000"/>
<rect x="736" y="156" width="3" height="3" fill="#ff0000"/>
<rect x="741" y="162" width="1" height="14" fill="#32cd32"/>
<rect x="740" y="166" width="3" height="2" fill="#32cd32"/>
<rect x="745" y="166" width="1" height="20" fill="#32cd32"/>
<rect x="744" y="168" width="3" height="5" fill="#32cd32"/>
<rect x="749" y="149" width="1" height="25" fill="#ff0000"/>
<rect x="748" y="152" width="3" height="21" fill="#ff0000"/>
<rect x="753" y="139" width="1" height="26" fill="#32cd32"/>
<rect x="752" y="152" width="3" height="5" fill="#32cd32"/>
<rect x="757" y="148" width="1" height="20" fill="#ff0000"/>
<rect x="756" y="153" width="3" height="9" fill="#ff0000"/>
<rect x="761" y="149" width="1" height="11" fill="#ff0000"/>
<rect x="760" y="151" width="3" height="3" fill="#ff0000"/>
<rect x="765" y="134" width="1" height="17" fill="#ff0000"/>
<rect x="764" y="136" width="3" height="13" fill="#ff0000"/>
<rect x="769" y="134" width="1" height="15" fill="#32cd32"/>
<rect x="768" y="136" width="3" height="4" fill="#32cd32"/>
<rect x="773" y="128" width="1" height="14" fill="#ff0000"/>
<rect x="772" y="138" width="3" height="3" fill="#ff0000"/>
<rect x="777" y="135" width="1" height="29" fill="#32cd32"/>
<rect x="776" y="138" width="3" height="24" fill="#32cd32"/>
<rect x="781" y="142" width="1" height="23" fill="#ff0000"/>
<rect x="780" y="144" width="3" height="19" fill="#ff0000"/>
<rect x="785" y="141" width="1" height="5" fill="#32cd32"/>
<rect x="784" y="142" width="3" height="2" fill="#32cd32"/>
<rect x="789" y="137" width="1" height="14" fill="#ff0000"/>
<rect x="788" y="141" width="3" height="3" fill="#ff0000"/>
<rect x="793" y="135" width="1" height="13" fill="#ff0000"/>
<rect x="792" y="136" width="3" height="6" fill="#ff0000"/>
<rect x="797" y="134" width="1" height="8" fill="#32cd32"/>
<rect x="796" y="136" width="3" height="3" fill="#32cd32"/>
<rect x="801" y="96" width="1" height="46" fill="#ff0000"/>
<rect x="800" y="99" width="3" height="38" fill="#ff0000"/>
<rect x="805" y="87" width="1" height="14" fill="#ff0000"/>
<rect x="804" y="98" width="3" height="2" fill="#ff0000"/>
<rect x="809" y="92" width="1" height="10" fill="#ff0000"/>
<rect x="808" y="93" width="3" height="7" fill="#ff0000"/>
<rect x="813" y="84" width="1" height="17" fill="#32cd32"/>
<rect x="812" y="93" width="3" height="2" fill="#32cd32"/>
<rect x="817" y="90" width="1" height="12" fill="#ff0000"/>
<rect x="816" y="92" width="3" height="3" fill="#ff0000"/>
<rect x="821" y="76" width="1" height="31" fill="#32cd32"/>
<rect x="820" y="92" width="3" height="9" fill="#32cd32"/>
<rect x="825" y="76" width="1" height="32" fill="#ff0000"/>
<rect x="824" y="77" width="3" height="24" fill="#ff0000"/>
<rect x="829" y="60" width="1" height="22" fill="#ff0000"/>
<rect x="828" y="65" width="3" height="13" fill="#ff0000"/>
<rect x="833" y="105" width="1" height="23" fill="#ff0000"/>
<rect x="832" y="112" width="3" height="7" fill="#ff0000"/>
<rect x="837" y="108" width="1" height="12" fill="#32cd32"/>
<rect x="836" y="110" width="3" height="2" fill="#32cd32"/>
<rect x="841" y="108" width="1" height="9" fill="#ff0000"/>
<rect x="840" y="110" width="3" height="4" fill="#ff0000"/>
<rect x="845" y="103" width="1" height="13" fill="#ff0000"/>
<rect x="844" y="104" width="3" height="7" fill="#ff0000"/>
<rect x="849" y="102" width="1" height="7" fill="#ff0000"/>
<rect x="848" y="103" width="3" height="4" fill="#ff0000"/>
<rect x="853" y="72" width="1" height="24" fill="#ff0000"/>
<rect x="852" y="72" width="3" height="9" fill="#ff0000"/>
<rect x="857" y="53" width="1" height="21" fill="#ff0000"/>
<rect x="856" y="57" width="3" height="16" fill="#ff0000"/>
<rect x="861" y="53" width="1" height="22" fill="#32cd32"/>
<rect x="860" y="57" width="3" height="8" fill="#32cd32"/>
<rect x="865" y="44" width="1" height="50" fill="#32cd32"/>
<rect x="864" y="64" width="3" height="27" fill="#32cd32"/>
<rect x="869" y="73" width="1" height="58" fill="#32cd32"/>
<rect x="868" y="87" width="3" height="29" fill="#32cd32"/>
<rect x="873" y="112" width="1" height="8" fill="#ff0000"/>
<rect x="872" y="114" width="3" height="3" fill="#ff0000"/>
<rect x="877" y="107" width="1" height="15" fill="#32cd32"/>
<rect x="876" y="115" width="3" height="3" fill="#32cd32"/>
<rect x="881" y="90" width="1" height="38" fill="#ff0000"/>
<rect x="880" y="94" width="3" height="25" fill="#ff0000"/>
<rect x="885" y="89" width="1" height="23" fill="#32cd32"/>
<rect x="884" y="94" width="3" height="16" fill="#32cd32"/>
<rect x="889" y="78" width="1" height="32" fill="#ff0000"/>
<rect x="888" y="98" width="3" height="11" fill="#ff0000"/>
<rect x="893" y="87" width="1" height="33" fill="#32cd32"/>
<rect x="892" y="98" width="3" height="20" fill="#32cd32"/>
<rect x="897" y="118" width="1" height="6" fill="#32cd32"/>
<rect x="896" y="118" width="3" height="4" fill="#32cd32"/>
<rect x="901" y="139" width="1" height="30" fill="#32cd32"/>
<rect x="900" y="139" width="3" height="7" fill="#32cd32"/>
<rect x="905" y="134" width="1" height="19" fill="#32cd32"/>
<rect x="904" y="145" width="3" height="7" fill="#32cd32"/>
<rect x="909" y="147" width="1" height="20" fill="#32cd32"/>
<rect x="908" y="151" width="3" height="10" fill="#32cd32"/>
<rect x="913" y="90" width="1" height="84" fill="#ff0000"/>
<rect x="912" y="94" width="3" height="66" fill="#ff0000"/>
<rect x="917" y="83" width="1" height="15" fill="#ff0000"/>
<rect x="916" y="88" width="3" height="7" fill="#ff0000"/>
<rect x="921" y="80" width="1" height="9" fill="#ff0000"/>
<rect x="920" y="83" width="3" height="5" fill="#ff0000"/>
<rect x="925" y="84" width="1" height="13" fill="#32cd32"/>
<rect x="924" y="84" width="3" height="9" fill="#32cd32"/>
<rect x="1161" y="67" width="6" height="6" fill="#ff0000"/><rect x="1163" y="69" width="2" height="2" fill="#fff"/>
<rect x="1161" y="129" width="6" height="6" fill="#00ff00"/><rect x="1163" y="131" width="2" height="2" fill="#fff"/>
<rect x="4" y="454" width="3" height="25" fill="#c0c0c0"/>
<rect x="8" y="454" width="3" height="25" fill="#c0c0c0"/>
<rect x="12" y="454" width="3" height="24" fill="#c0c0c0"/>
<rect x="16" y="454" width="3" height="22" fill="#c0c0c0"/>
<rect x="20" y="454" width="3" height="21" fill="#c0c0c0"/>
<rect x="24" y="454" width="3" height="20" fill="#c0c0c0"/>
<rect x="28" y="454" width="3" height="21" fill="#c0c0c0"/>
<rect x="32" y="454" width="3" height="21" fill="#c0c0c0"/>
<rect x="36" y="454" width="3" height="23" fill="#c0c0c0"/>
<rect x="40" y="454" width="3" height="23" fill="#c0c0c0"/>
<rect x="44" y="454" width="3" height="23" fill="#c0c0c0"/>
<rect x="48" y="454" width="3" height="21" fill="#c0c0c0"/>
<rect x="52" y="454" width="3" height="19" fill="#c0c0c0"/>
<rect x="56" y="454" width="3" height="15" fill="#c0c0c0"/>
<rect x="60" y="454" width="3" height="9" fill="#c0c0c0"/>
<rect x="64" y="454" width="3" height="6" fill="#c0c0c0"/>
<rect x="68" y="454" width="3" height="2" fill="#c0c0c0"/>
<rect x="72" y="452" width="3" height="3" fill="#c0c0c0"/>
<rect x="76" y="450" width="3" height="5" fill="#c0c0c0"/>
<rect x="80" y="447" width="3" height="8" fill="#c0c0c0"/>
<rect x="84" y="443" width="3" height="12" fill="#c0c0c0"/>
<rect x="88" y="438" width="3" height="17" fill="#c0c0c0"/>
<rect x="92" y="435" width="3" height="20" fill="#c0c0c0"/>
<rect x="96" y="433" width="3" height="22" fill="#c0c0c0"/>
<rect x="100" y="433" width="3" height="22" fill="#c0c0c0"/>
<rect x="104" y="433" width="3" height="22" fill="#c0c0c0"/>
<rect x="108" y="433" width="3" height="22" fill="#c0c0c0"/>
<rect x="112" y="429" width="3" height="26" fill="#c0c0c0"/>
<rect x="116" y="428" width="3" height="27" fill="#c0c0c0"/>
<rect x="120" y="428" width="3" height="27" fill="#c0c0c0"/>
<rect x="124" y="426" width="3" height="29" fill="#c0c0c0"/>
<rect x="128" y="425" width="3" height="30" fill="#c0c0c0"/>
<rect x="132" y="424" width="3" height="31" fill="#c0c0c0"/>
<rect x="136" y="422" width="3" height="33" fill="#c0c0c0"/>
<rect x="140" y="420" width="3" height="35" fill="#c0c0c0"/>
<rect x="144" y="419" width="3" height="36" fill="#c0c0c0"/>
<rect x="148" y="421" width="3" height="34" fill="#c0c0c0"/>
<rect x="152" y="423" width="3" height="32" fill="#c0c0c0"/>
<rect x="156" y="430" width="3" height="25" fill="#c0c0c0"/>
<rect x="160" y="436" width="3" height="19" fill="#c0c0c0"/>
<rect x="164" y="440" width="3" height="15" fill="#c0c0c0"/>
<rect x="168" y="443" width="3" height="12" fill="#c0c0c0"/>
<rect x="172" y="445" width="3" height="10" fill="#c0c0c0"/>
<rect x="176" y="447" width="3" height="8" fill="#c0c0c0"/>
<rect x="180" y="451" width="3" height="4" fill="#c0c0c0"/>
<rect x="184" y="453" width="3" height="2" fill="#c0c0c0"/>
<rect x="188" y="454" width="3" height="2" fill="#c0c0c0"/>
<rect x="192" y="454" width="3" height="3" fill="#c0c0c0"/>
<rect x="196" y="454" width="3" height="2" fill="#c0c0c0"/>
<rect x="200" y="454" width="3" height="1" fill="#c0c0c0"/>
<rect x="204" y="454" width="3" height="1" fill="#c0c0c0"/>
<rect x="208" y="454" width="3" height="2" fill="#c0c0c0"/>
<rect x="212" y="454" width="3" height="2" fill="#c0c0c0"/>
<rect x="216" y="454" width="3" height="3" fill="#c0c0c0"/>
<rect x="220" y="454" width="3" height="3" fill="#c0c0c0"/>
<rect x="224" y="454" width="3" height="4" fill="#c0c0c0"/>
<rect x="228" y="454" width="3" height="6" fill="#c0c0c0"/>
<rect x="232" y="454" width="3" height="7" fill="#c0c0c0"/>
<rect x="236" y="454" width="3" height="8" fill="#c0c0c0"/>
<rect x="240" y="454" width="3" height="11" fill="#c0c0c0"/>
<rect x="244" y="454" width="3" height="15" fill="#c0c0c0"/>
<rect x="248" y="454" width="3" height="19" fill="#c0c0c0"/>
<rect x="252" y="454" width="3" height="23" fill="#c0c0c0"/>
<rect x="256" y="454" width="3" height="25" fill="#c0c0c0"/>
<rect x="260" y="454" width="3" height="25" fill="#c0c0c0"/>
<rect x="264" y="454" width="3" height="23" fill="#c0c0c0"/>
<rect x="268" y="454" width="3" height="24" fill="#c0c0c0"/>
<rect x="272" y="454" width="3" height="23" fill="#c0c0c0"/>
<rect x="276" y="454" width="3" height="21" fill="#c0c0c0"/>
<rect x="280" y="454" width="3" height="17" fill="#c0c0c0"/>
<rect x="284" y="454" width="3" height="15" fill="#c0c0c0"/>
<rect x="288" y="454" width="3" height="13" fill="#c0c0c0"/>
<rect x="292" y="454" width="3" height="11" fill="#c0c0c0"/>
<rect x="296" y="454" width="3" height="11" fill="#c0c0c0"/>
<rect x="300" y="454" width="3" height="9" fill="#c0c0c0"/>
<rect x="304" y="454" width="3" height="9" fill="#c0c0c0"/>
<rect x="308" y="454" width="3" height="9" fill="#c0c0c0"/>
<rect x="312" y="454" width="3" height="8" fill="#c0c0c0"/>
<rect x="316" y="454" width="3" height="8" fill="#c0c0c0"/>
<rect x="320" y="454" width="3" height="5" fill="#c0c0c0"/>
<rect x="324" y="454" width="3" height="2" fill="#c0c0c0"/>
<rect x="328" y="451" width="3" height="4" fill="#c0c0c0"/>
<rect x="332" y="449" width="3" height="6" fill="#c0c0c0"/>
<rect x="336" y="447" width="3" height="8" fill="#c0c0c0"/>
<rect x="340" y="444" width="3" height="11" fill="#c0c0c0"/>
<rect x="344" y="443" width="3" height="12" fill="#c0c0c0"/>
<rect x="348" y="444" width="3" height="11" fill="#c0c0c0"/>
<rect x="352" y="445" width="3" height="10" fill="#c0c0c0"/>
<rect x="356" y="446" width="3" height="9" fill="#c0c0c0"/>
<rect x="360" y="447" width="3" height="8" fill="#c0c0c0"/>
<rect x="364" y="451" width="3" height="4" fill="#c0c0c0"/>
<rect x="368" y="450" width="3" height="5" fill="#c0c0c0"/>
<rect x="372" y="448" width="3" height="7" fill="#c0c0c0"/>
<rect x="376" y="447" width="3" height="8" fill="#c0c0c0"/>
<rect x="380" y="447" width="3" height="8" fill="#c0c0c0"/>
<rect x="384" y="448" width="3" height="7" fill="#c0c0c0"/>
<rect x="388" y="449" width="3" height="6" fill="#c0c0c0"/>
<rect x="392" y="450" width="3" height="5" fill="#c0c0c0"/>
<rect x="396" y="451" width="3" height="4" fill="#c0c0c0"/>
<rect x="400" y="453" width="3" height="2" fill="#c0c0c0"/>
<rect x="404" y="454" width="3" height="1" fill="#c0c0c0"/>
<rect x="408" y="451" width="3" height="4" fill="#c0c0c0"/>
<rect x="412" y="449" width="3" height="6" fill="#c0c0c0"/>
<rect x="416" y="447" width="3" height="8" fill="#c0c0c0"/>
<rect x="420" y="444" width="3" height="11" fill="#c0c0c0"/>
<rect x="424" y="442" width="3" height="13" fill="#c0c0c0"/>
<rect x="428" y="441" width="3" height="14" fill="#c0c0c0"/>
<rect x="432" y="439" width="3" height="16" fill="#c0c0c0"/>
<rect x="436" y="437" width="3" height="18" fill="#c0c0c0"/>
<rect x="440" y="438" width="3" height="17" fill="#c0c0c0"/>
<rect x="444" y="437" width="3" height="18" fill="#c0c0c0"/>
<rect x="448" y="437" width="3" height="18" fill="#c0c0c0"/>
<rect x="452" y="436" width="3" height="19" fill="#c0c0c0"/>
<rect x="456" y="436" width="3" height="19" fill="#c0c0c0"/>
<rect x="460" y="434" width="3" height="21" fill="#c0c0c0"/>
<rect x="464" y="433" width="3" height="22" fill="#c0c0c0"/>
<rect x="468" y="433" width="3" height="22" fill="#c0c0c0"/>
<rect x="472" y="432" width="3" height="23" fill="#c0c0c0"/>
<rect x="476" y="433" width="3" height="22" fill="#c0c0c0"/>
<rect x="480" y="434" width="3" height="21" fill="#c0c0c0"/>
<rect x="484" y="438" width="3" height="17" fill="#c0c0c0"/>
<rect x="488" y="444" width="3" height="11" fill="#c0c0c0"/>
<rect x="492" y="451" width="3" height="4" fill="#c0c0c0"/>
<rect x="496" y="454" width="3" height="4" fill="#c0c0c0"/>
<rect x="500" y="454" width="3" height="9" fill="#c0c0c0"/>
<rect x="504" y="454" width="3" height="11" fill="#c0c0c0"/>
<rect x="508" y="454" width="3" height="13" fill="#c0c0c0"/>
<rect x="512" y="454" width="3" height="17" fill="#c0c0c0"/>
<rect x="516" y="454" width="3" height="21" fill="#c0c0c0"/>
<rect x="520" y="454" width="3" height="24" fill="#c0c0c0"/>
<rect x="524" y="454" width="3" height="24" fill="#c0c0c0"/>
<rect x="528" y="454" width="3" height="23" fill="#c0c0c0"/>
<rect x="532" y="454" width="3" height="21" fill="#c0c0c0"/>
<rect x="536" y="454" width="3" height="17" fill="#c0c0c0"/>
<rect x="540" y="454" width="3" height="15" fill="#c0c0c0"/>
<rect x="544" y="454" width="3" height="11" fill="#c0c0c0"/>
<rect x="548" y="454" width="3" height="11" fill="#c0c0c0"/>
<rect x="552" y="454" width="3" height="11" fill="#c0c0c0"/>
<rect x="556" y="454" width="3" height="10" fill="#c0c0c0"/>
<rect x="560" y="454" width="3" height="8" fill="#c0c0c0"/>
<rect x="564" y="454" width="3" height="6" fill="#c0c0c0"/>
<rect x="568" y="454" width="3" height="4" fill="#c0c0c0"/>
<rect x="572" y="454" width="3" height="1" fill="#c0c0c0"/>
<rect x="576" y="453" width="3" height="2" fill="#c0c0c0"/>
<rect x="580" y="450" width="3" height="5" fill="#c0c0c0"/>
<rect x="584" y="446" width="3" height="9" fill="#c0c0c0"/>
<rect x="588" y="443" width="3" height="12" fill="#c0c0c0"/>
<rect x="592" y="441" width="3" height="14" fill="#c0c0c0"/>
<rect x="596" y="441" width="3" height="14" fill="#c0c0c0"/>
<rect x="600" y="441" width="3" height="14" fill="#c0c0c0"/>
<rect x="604" y="441" width="3" height="14" fill="#c0c0c0"/>
<rect x="608" y="438" width="3" height="17" fill="#c0c0c0"/>
<rect x="612" y="435" width="3" height="20" fill="#c0c0c0"/>
<rect x="616" y="433" width="3" height="22" fill="#c0c0c0"/>
<rect x="620" y="431" width="3" height="24" fill="#c0c0c0"/>
<rect x="624" y="430" width="3" height="25" fill="#c0c0c0"/>
<rect x="628" y="428" width="3" height="27" fill="#c0c0c0"/>
<rect x="632" y="428" width="3" height="27" fill="#c0c0c0"/>
<rect x="636" y="432" width="3" height="23" fill="#c0c0c0"/>
<rect x="640" y="433" width="3" height="22" fill="#c0c0c0"/>
<rect x="644" y="435" width="3" height="20" fill="#c0c0c0"/>
<rect x="648" y="435" width="3" height="20" fill="#c0c0c0"/>
<rect x="652" y="436" width="3" height="19" fill="#c0c0c0"/>
<rect x="656" y="440" width="3" height="15" fill="#c0c0c0"/>
<rect x="660" y="445" width="3" height="10" fill="#c0c0c0"/>
<rect x="664" y="449" width="3" height="6" fill="#c0c0c0"/>
<rect x="668" y="450" width="3" height="5" fill="#c0c0c0"/>
<rect x="672" y="451" width="3" height="4" fill="#c0c0c0"/>
<rect x="676" y="454" width="3" height="3" fill="#c0c0c0"/>
<rect x="680" y="454" width="3" height="2" fill="#c0c0c0"/>
<rect x="684" y="454" width="3" height="2" fill="#c0c0c0"/>
<rect x="688" y="454" width="3" height="1" fill="#c0c0c0"/>
<rect x="692" y="453" width="3" height="2" fill="#c0c0c0"/>
<rect x="696" y="453" width="3" height="2" fill="#c0c0c0"/>
<rect x="700" y="450" width="3" height="5" fill="#c0c0c0"/>
<rect x="704" y="449" width="3" height="6" fill="#c0c0c0"/>
<rect x="708" y="448" width="3" height="7" fill="#c0c0c0"/>
<rect x="712" y="447" width="3" height="8" fill="#c0c0c0"/>
<rect x="716" y="446" width="3" height="9" fill="#c0c0c0"/>
<rect x="720" y="445" width="3" height="10" fill="#c0c0c0"/>
<rect x="724" y="444" width="3" height="11" fill="#c0c0c0"/>
<rect x="728" y="444" width="3" height="11" fill="#c0c0c0"/>
<rect x="732" y="444" width="3" height="11" fill="#c0c0c0"/>
<rect x="736" y="444" width="3" height="11" fill="#c0c0c0"/>
<rect x="740" y="445" width="3" height="10" fill="#c0c0c0"/>
<rect x="744" y="446" width="3" height="9" fill="#c0c0c0"/>
<rect x="748" y="446" width="3" height="9" fill="#c0c0c0"/>
<rect x="752" y="446" width="3" height="9" fill="#c0c0c0"/>
<rect x="756" y="446" width="3" height="9" fill="#c0c0c0"/>
<rect x="760" y="445" width="3" height="10" fill="#c0c0c0"/>
<rect x="764" y="444" width="3" height="11" fill="#c0c0c0"/>
<rect x="768" y="443" width="3" height="12" fill="#c0c0c0"/>
<rect x="772" y="443" width="3" height="12" fill="#c0c0c0"/>
<rect x="776" y="445" width="3" height="10" fill="#c0c0c0"/>
<rect x="780" y="445" width="3" height="10" fill="#c0c0c0"/>
<rect x="784" y="445" width="3" height="10" fill="#c0c0c0"/>
<rect x="788" y="445" width="3" height="10" fill="#c0c0c0"/>
<rect x="792" y="445" width="3" height="10" fill="#c0c0c0"/>
<rect x="796" y="445" width="3" height="10" fill="#c0c0c0"/>
<rect x="800" y="442" width="3" height="13" fill="#c0c0c0"/>
<rect x="804" y="440" width="3" height="15" fill="#c0c0c0"/>
<rect x="808" y="438" width="3" height="17" fill="#c0c0c0"/>
<rect x="812" y="437" width="3" height="18" fill="#c0c0c0"/>
<rect x="816" y="436" width="3" height="19" fill="#c0c0c0"/>
<rect x="820" y="436" width="3" height="19" fill="#c0c0c0"/>
<rect x="824" y="435" width="3" height="20" fill="#c0c0c0"/>
<rect x="828" y="433" width="3" height="22" fill="#c0c0c0"/>
<rect x="832" y="436" width="3" height="19" fill="#c0c0c0"/>
<rect x="836" y="438" width="3" height="17" fill="#c0c0c0"/>
<rect x="840" y="439" width="3" height="16" fill="#c0c0c0"/>
<rect x="844" y="440" width="3" height="15" fill="#c0c0c0"/>
<rect x="848" y="441" width="3" height="14" fill="#c0c0c0"/>
<rect x="852" y="439" width="3" height="16" fill="#c0c0c0"/>
<rect x="856" y="437" width="3" height="18" fill="#c0c0c0"/>
<rect x="860" y="437" width="3" height="18" fill="#c0c0c0"/>
<rect x="864" y="439" width="3" height="16" fill="#c0c0c0"/>
<rect x="868" y="441" width="3" height="14" fill="#c0c0c0"/>
<rect x="872" y="443" width="3" height="12" fill="#c0c0c0"/>
<rect x="876" y="446" width="3" height="9" fill="#c0c0c0"/>
<rect x="880" y="446" width="3" height="9" fill="#c0c0c0"/>
<rect x="884" y="447" width="3" height="8" fill="#c0c0c0"/>
<rect x="888" y="448" width="3" height="7" fill="#c0c0c0"/>
<rect x="892" y="449" width="3" height="6" fill="#c0c0c0"/>
<rect x="896" y="451" width="3" height="4" fill="#c0c0c0"/>
<rect x="900" y="454" width="3" height="2" fill="#c0c0c0"/>
<rect x="904" y="454" width="3" height="5" fill="#c0c0c0"/>
<rect x="908" y="454" width="3" height="7" fill="#c0c0c0"/>
<rect x="912" y="454" width="3" height="5" fill="#c0c0c0"/>
<rect x="916" y="454" width="3" height="2" fill="#c0c0c0"/>
<rect x="920" y="452" width="3" height="3" fill="#c0c0c0"/>
<rect x="924" y="451" width="3" height="4" fill="#c0c0c0"/>
<polyline points="5.0,476.3 11.9,477.5 19.8,477.9 29.7,476.9 39.6,475.9 49.5,475.5 57.5,474.3 65.4,472.0 73.3,467.5 81.3,461.1 89.2,453.1 99.0,444.5 109.0,438.7 119.0,434.3 128.8,430.0 138.7,426.0 146.7,423.4 153.6,422.0 158.5,422.8 168.5,427.4 178.4,434.3 188.3,443.2 198.2,449.8 208.0,453.1 218.0,454.7 228.0,455.5 236.0,456.7 244.0,459.1 251.9,463.5 259.8,468.5 267.7,472.4 275.6,474.5 285.5,474.5 295.5,471.0 305.4,467.0 315.3,464.0 325.2,461.1 335.0,457.7 345.0,453.1 354.9,448.2 360.9,446.5 374.7,446.5 384.6,448.2 394.5,449.8 406.4,450.2 414.4,450.5 426.2,449.8 434.2,446.5 444.0,443.2 454.0,439.9 463.9,437.3 472.0,435.9 481.9,435.3 490.8,435.9 497.8,440.3 505.7,446.5 513.6,454.1 521.5,463.5 529.5,469.5 537.4,472.5 545.3,473.0 553.3,471.0 561.2,467.0 571.0,462.1 581.0,458.1 590.9,452.5 600.8,447.8 610.7,444.2 620.6,439.3 630.5,435.3 640.5,433.3 655.3,432.9 662.2,435.9 670.2,439.9 680.0,445.2 690.0,450.2 696.9,453.5 705.8,453.7 712.0,452.2 717.9,449.8 727.8,447.2 737.7,445.8 757.5,445.8 777.4,445.2 801.0,444.5 811.0,443.2 821.0,440.7 831.9,437.9 850.7,437.9 858.6,438.7 868.5,439.3 878.4,440.7 888.3,443.2 896.3,445.2 904.2,449.2 910.1,451.8 916.1,453.7 923.0,453.7 925.5,454.7" fill="none" stroke="#ff0000" stroke-width="1"/>
<line x1="6" y1="508.5" x2="1167" y2="508.5" stroke="#c0c0c0" stroke-width="1" stroke-dasharray="3,3"/>
<line x1="6" y1="540.5" x2="1167" y2="540.5" stroke="#c0c0c0" stroke-width="1" stroke-dasharray="3,3"/>
<polyline points="5.0,530.7 9.9,532.6 13.9,531.6 17.8,528.1 21.4,528.5 25.8,531.6 29.7,530.7 33.3,536.6 39.6,533.0 45.2,532.6 49.5,530.1 53.5,528.5 61.4,517.8 65.4,519.8 69.4,518.8 73.3,519.8 77.3,519.8 89.2,511.2 94.1,511.2 101.0,515.8 105.0,517.2 110.0,514.2 114.0,508.9 117.0,508.3 120.9,506.7 124.9,513.6 132.8,509.7 137.7,509.7 141.7,510.8 145.7,509.7 149.6,515.8 153.0,517.8 157.6,530.1 162.5,529.7 168.5,527.1 176.4,524.5 181.3,533.6 185.3,528.1 191.2,527.7 197.8,523.7 201.7,525.7 205.1,524.7 209.1,525.7 213.0,523.7 217.6,529.1 221.6,526.1 227.9,530.1 232.9,531.6 236.8,531.6 238.4,532.0 242.0,538.0 247.9,542.0 253.4,544.5 257.4,534.0 261.4,535.0 265.3,531.1 269.3,535.0 277.2,525.7 290.5,525.7 297.4,529.1 301.8,524.7 305.4,525.7 309.3,530.7 313.3,524.7 317.3,527.7 321.2,520.5 324.8,518.8 333.1,518.8 337.5,515.8 345.0,515.8 349.4,523.7 353.9,523.1 357.9,524.5 361.2,523.7 365.4,533.6 369.8,523.7 373.7,519.8 380.7,522.7 387.6,523.1 392.6,525.1 397.5,529.1 401.5,527.1 405.4,526.7 413.4,515.8 417.3,518.8 421.9,514.8 425.3,515.8 433.2,514.6 437.2,512.2 441.1,520.5 447.7,517.2 453.0,515.8 457.0,517.2 463.9,512.8 470.8,512.8 476.0,514.2 480.9,519.2 488.8,534.4 493.8,539.0 499.3,539.0 501.7,540.0 505.3,533.0 509.7,537.0 514.0,540.0 521.1,540.5 525.1,533.0 529.5,531.1 533.8,526.1 537.4,523.7 541.4,524.7 545.3,523.7 553.3,528.7 557.2,528.7 562.2,521.7 566.1,520.7 569.1,521.7 573.5,518.2 578.0,520.7 582.0,519.2 585.4,515.2 588.9,513.8 593.3,513.8 597.3,519.8 601.8,519.2 605.8,517.2 610.7,510.8 613.7,509.3 617.7,510.8 621.6,511.8 625.6,510.2 629.6,508.7 637.5,523.7 641.4,521.1 645.4,521.7 652.7,517.8 657.3,528.5 662.2,530.7 665.2,530.7 669.8,526.7 673.2,528.5 677.5,533.0 682.1,526.1 688.0,522.7 690.0,523.1 693.6,524.7 700.9,519.8 704.9,520.7 708.8,519.8 714.0,519.8 721.5,516.8 729.8,520.7 737.7,519.8 741.7,523.1 745.3,524.1 749.6,518.8 753.6,519.8 761.1,518.8 765.5,514.6 769.8,516.8 773.0,515.8 777.4,524.7 781.3,519.8 789.3,519.8 793.2,517.8 797.2,517.8 801.1,510.2 809.1,508.7 813.0,509.8 816.6,508.7 821.4,512.8 825.9,507.3 829.3,505.9 833.2,521.7 840.8,521.7 844.7,519.8 849.7,519.8 853.7,512.8 857.6,510.8 860.6,512.2 869.5,526.7 873.5,526.7 877.4,528.1 881.4,522.1 885.4,524.7 889.3,522.7 893.3,527.7 897.8,528.1 901.8,532.6 909.7,535.6 913.1,521.7 916.1,519.8 922.0,519.8 925.5,521.1" fill="none" stroke="#1e90ff" stroke-width="1"/>
<rect x="4" y="24" width="1164" height="1" fill="#000"/><rect x="4" y="413" width="1164" height="1" fill="#000"/><rect x="4" y="24" width="1" height="390" fill="#000"/><rect x="1167" y="24" width="1" height="390" fill="#000"/>
<rect x="4" y="415" width="1164" height="1" fill="#000"/><rect x="4" y="481" width="1164" height="1" fill="#000"/><rect x="4" y="415" width="1" height="67" fill="#000"/><rect x="1167" y="415" width="1" height="67" fill="#000"/>
<rect x="4" y="483" width="1164" height="1" fill="#000"/><rect x="4" y="565" width="1164" height="1" fill="#000"/><rect x="4" y="483" width="1" height="83" fill="#000"/><rect x="1167" y="483" width="1" height="83" fill="#000"/>
<rect x="4" y="129" width="6" height="6" fill="#00ff00"/><rect x="6" y="131" width="2" height="2" fill="#fff"/>
<rect x="4" y="67" width="2" height="6" fill="#ff0000"/>
<rect x="1168" y="47" width="2" height="1" fill="#000"/>
<rect x="1168" y="80" width="2" height="1" fill="#000"/>
<rect x="1168" y="113" width="2" height="1" fill="#000"/>
<rect x="1168" y="146" width="2" height="1" fill="#000"/>
<rect x="1168" y="179" width="2" height="1" fill="#000"/>
<rect x="1168" y="212" width="2" height="1" fill="#000"/>
<rect x="1168" y="245" width="2" height="1" fill="#000"/>
<rect x="1168" y="278" width="2" height="1" fill="#000"/>
<rect x="1168" y="311" width="2" height="1" fill="#000"/>
<rect x="1168" y="344" width="2" height="1" fill="#000"/>
<rect x="1168" y="377" width="2" height="1" fill="#000"/>
<rect x="1168" y="410" width="2" height="1" fill="#000"/>
<rect x="1168" y="417" width="1" height="1" fill="#000"/>
<rect x="1168" y="454" width="2" height="1" fill="#000"/>
<rect x="1168" y="480" width="1" height="1" fill="#000"/>
<rect x="1168" y="485" width="1" height="1" fill="#000"/>
<rect x="1168" y="564" width="1" height="1" fill="#000"/>
<rect x="5" y="566" width="1" height="3" fill="#000"/>
<rect x="69" y="566" width="1" height="3" fill="#000"/>
<rect x="133" y="566" width="1" height="3" fill="#000"/>
<rect x="197" y="566" width="1" height="3" fill="#000"/>
<rect x="261" y="566" width="1" height="3" fill="#000"/>
<rect x="325" y="566" width="1" height="3" fill="#000"/>
<rect x="389" y="566" width="1" height="3" fill="#000"/>
<rect x="453" y="566" width="1" height="3" fill="#000"/>
<rect x="517" y="566" width="1" height="3" fill="#000"/>
<rect x="581" y="566" width="1" height="3" fill="#000"/>
<rect x="645" y="566" width="1" height="3" fill="#000"/>
<rect x="709" y="566" width="1" height="3" fill="#000"/>
<rect x="773" y="566" width="1" height="3" fill="#000"/>
<rect x="837" y="566" width="1" height="3" fill="#000"/>
<rect x="901" y="566" width="1" height="3" fill="#000"/>
<polygon points="8.2,35.2 15.2,35.2 11.7,31" fill="#000" shape-rendering="auto"/>
</svg>
<div class="ttl" style="left:20px;top:27px;letter-spacing:0.26px">UKOil-,H4</div>
<div class="ttl" style="left:69.4px;top:27px">118.103</div>
<div class="ttl" style="left:105.6px;top:27px">118.104</div>
<div class="ttl" style="left:141.7px;top:27px">117.352</div>
<div class="ttl" style="left:177.5px;top:27px">117.550</div>
<div class="ttl" style="left:9.5px;top:419px;letter-spacing:0.17px">MACD(12,26,9) 0.1877 -0.0144</div>
<div class="ttl" style="left:9.5px;top:487px;letter-spacing:0.05px">RSI(14) 54.6549</div>
<div class="ax" style="left:1173px;top:42px;">120.540</div>
<div class="ax" style="left:1173px;top:75px;">118.380</div>
<div class="ax" style="left:1173px;top:108px;">116.280</div>
<div class="ax" style="left:1173px;top:141px;">114.120</div>
<div class="ax" style="left:1173px;top:174px;">112.020</div>
<div class="ax" style="left:1173px;top:207px;">109.860</div>
<div class="ax" style="left:1173px;top:240px;">107.760</div>
<div class="ax" style="left:1173px;top:273px;">105.600</div>
<div class="ax" style="left:1173px;top:306px;">103.500</div>
<div class="ax" style="left:1173px;top:339px;">101.400</div>
<div class="ax" style="left:1173px;top:372px;">99.240</div>
<div class="ax" style="left:1173px;top:405px;">97.140</div>
<div class="ax" style="left:1171px;top:417px;">2.7101</div>
<div class="ax" style="left:1171px;top:449px;">0.00</div>
<div class="ax" style="left:1171px;top:469px;">-1.9521</div>
<div class="ax" style="left:1171px;top:485px;">100</div>
<div class="ax" style="left:1171px;top:503px;">70</div>
<div class="ax" style="left:1171px;top:535px;">30</div>
<div class="ax" style="left:1171px;top:553px;">0</div>
<div class="tag" style="top:64px;background:#ff0000;color:#fff">119.007</div>
<div class="tag" style="top:88px;background:#000000;color:#fff">117.550</div>
<div class="tag" style="top:126px;background:#00ff00;color:#fff">115.021</div>
<div class="tag" style="top:188px;background:#0000ff;color:#fff">111.024</div>
<div class="tag" style="top:250px;background:#0000ff;color:#fff">107.026</div>
<div class="ax" style="left:4px;top:569px;letter-spacing:0.17px">8 Apr 2022</div>
<div class="ax" style="left:69px;top:569px;letter-spacing:0.17px">12 Apr 20:00</div>
<div class="ax" style="left:133px;top:569px;letter-spacing:0.17px">18 Apr 12:00</div>
<div class="ax" style="left:197px;top:569px;letter-spacing:0.17px">21 Apr 04:00</div>
<div class="ax" style="left:261px;top:569px;letter-spacing:0.17px">25 Apr 20:00</div>
<div class="ax" style="left:325px;top:569px;letter-spacing:0.17px">28 Apr 16:00</div>
<div class="ax" style="left:389px;top:569px;letter-spacing:0.17px">3 May 08:00</div>
<div class="ax" style="left:453px;top:569px;letter-spacing:0.17px">6 May 00:00</div>
<div class="ax" style="left:517px;top:569px;letter-spacing:0.17px">10 May 16:00</div>
<div class="ax" style="left:581px;top:569px;letter-spacing:0.17px">13 May 08:00</div>
<div class="ax" style="left:645px;top:569px;letter-spacing:0.17px">18 May 00:00</div>
<div class="ax" style="left:709px;top:569px;letter-spacing:0.17px">20 May 16:00</div>
<div class="ax" style="left:773px;top:569px;letter-spacing:0.17px">25 May 08:00</div>
<div class="ax" style="left:837px;top:569px;letter-spacing:0.17px">30 May 04:00</div>
<div class="ax" style="left:901px;top:569px;letter-spacing:0.17px">2 Jun 00:00</div>
<div id="tp">
 <div class="rb" id="sp"><div class="small" style="left:22px;top:17px">117</div><div class="big" style="left:46.5px;top:-2px">55</div><div class="sup" style="left:85px;top:-1px">0</div></div>
 <div class="rb" id="bp"><div class="small" style="left:21px;top:17px">117</div><div class="big" style="left:46.5px;top:-2px">67</div><div class="sup" style="left:84.5px;top:-1px">0</div></div>
 <div class="rb" id="sell"><div class="t" style="left:11.5px;top:5px;letter-spacing:0.1px">SELL</div></div>
 <div class="rb" id="buy"><div class="t" style="left:12.5px;top:5px;letter-spacing:0.5px">BUY</div></div>
 <div class="uln" style="left:4px;top:23px;width:44px;background:#8e0c0c"></div>
 <div class="uln" style="left:4px;top:24px;width:44px;background:#ee6a6a"></div>
 <div class="uln" style="left:172px;top:23px;width:43px;background:#8e0c0c"></div>
 <div class="uln" style="left:172px;top:24px;width:43px;background:#ee6a6a"></div>
 <div id="vol">
   <div class="vb" style="left:1px"></div><div class="vb" style="left:89px"></div>
   <div style="position:absolute;left:20px;top:1px;width:1px;height:18px;background:#b4b8c4"></div>
   <div style="position:absolute;left:88px;top:1px;width:1px;height:18px;background:#b4b8c4"></div>
   <div style="position:absolute;left:62px;top:3px;font-size:11.5px;line-height:14px;color:#000">2.00</div>
   <div style="position:absolute;left:8px;top:8px;width:0;height:0;border-left:3px solid transparent;border-right:3px solid transparent;border-top:3.5px solid #4a62b8"></div>
   <div style="position:absolute;left:96px;top:8px;width:0;height:0;border-left:3px solid transparent;border-right:3px solid transparent;border-bottom:3.5px solid #4a62b8"></div>
 </div>
</div>
<div id="tabs">
 <div class="ln0"></div><div class="ln"></div><div class="lb"></div>
 <div class="tab" style="left:17.3px"><span style="letter-spacing:-0.250px">EURUSD</span><span style="letter-spacing:0.202px">-,Daily</span></div>
<div class="tab" style="left:124px"><span style="letter-spacing:-0.250px">AUDUSD</span><span style="letter-spacing:0.585px">-,Daily</span></div>
<div class="tab" style="left:234.3px"><span style="letter-spacing:-0.250px">USDCHF</span><span style="letter-spacing:0.083px">-,Daily</span></div>
<div class="tab" style="left:340.7px"><span style="letter-spacing:-0.250px">USDCAD</span><span style="letter-spacing:0.468px">-,Daily</span></div>
<div class="tab" style="left:450px"><span style="letter-spacing:-0.250px">USDCNH</span><span style="letter-spacing:0.700px">-,Daily</span></div>
<div class="tab" style="left:561px"><span style="letter-spacing:-0.250px">XAUUSD</span><span style="letter-spacing:0.533px">-,Daily</span></div>
<div class="tab" style="left:669px"><span style="letter-spacing:0.000px">UKOil</span><span style="letter-spacing:0.500px">-,Daily</span></div>
<div class="tab" style="left:761.7px"><span style="letter-spacing:0.000px">USOil</span><span style="letter-spacing:0.450px">-,Daily</span></div>
<div class="tab" style="left:852.7px"><span style="letter-spacing:0.000px">HK50</span><span style="letter-spacing:0.300px">-,H1</span></div>
<div class="tab" style="left:928px"><span style="letter-spacing:0.000px">EURCHF</span><span style="letter-spacing:-0.667px">-,H1</span></div>
<div class="tab" style="left:1022px"><span style="letter-spacing:0.000px">USOil</span><span style="letter-spacing:0.567px">-,H4</span></div>
<div class="sep" style="left:114px"></div>
<div class="sep" style="left:222px"></div>
<div class="sep" style="left:330px"></div>
<div class="sep" style="left:438px"></div>
<div class="sep" style="left:550px"></div>
<div class="sep" style="left:658px"></div>
<div class="sep" style="left:750px"></div>
<div class="sep" style="left:842px"></div>
<div class="sep" style="left:919px"></div>
<div class="sep" style="left:1010px"></div>
 <div id="act"><span>UKOil-,H4</span></div>
 <div class="arr" style="left:1182px;border-right:4px solid #000"></div>
 <div class="arr" style="left:1202px;border-left:4px solid #8c8c8c"></div>
 <div id="bot"></div>
</div>
</div></body></html>
